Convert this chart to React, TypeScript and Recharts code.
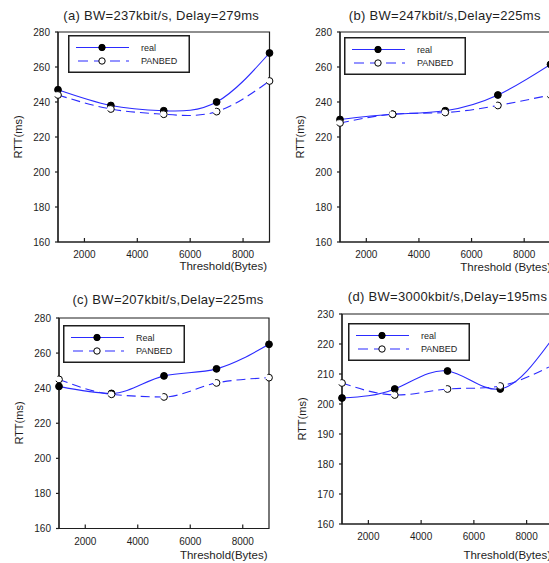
import React from 'react';
import { LineChart, Line, XAxis, YAxis, ReferenceArea, Legend } from 'recharts';

const thresholds = [1000, 3000, 5000, 7000, 9000];
const xTicks = [2000, 4000, 6000, 8000];
const rttTicksWide = [160, 180, 200, 220, 240, 260, 280];
const rttTicksNarrow = [160, 170, 180, 190, 200, 210, 220, 230];

const aReal = [247, 238, 235, 240, 268];
const aPanbed = [244, 236, 233, 234.5, 252];
const bReal = [230, 233, 235, 244, 261.5];
const bPanbed = [228, 233, 234, 238, 244];
const cReal = [241, 237, 247, 251, 265];
const cPanbed = [245, 236.5, 235, 243, 246];
const dReal = [202, 205, 211, 205, 222];
const dPanbed = [207, 203, 205, 206, 213];

const titles = [
  '(a) BW=237kbit/s, Delay=279ms',
  '(b) BW=247kbit/s,Delay=225ms',
  '(c) BW=207kbit/s,Delay=225ms',
  '(d) BW=3000kbit/s,Delay=195ms',
];
const xLabels = ['Threshold(Bytes)', 'Threshold (Bytes)', 'Threshold(Bytes)', 'Threshold(Bytes)'];
const yLabel = 'RTT(ms)';
const realNames = ['real', 'real', 'Real', 'real'];
const panbedName = 'PANBED';

const build = (real: number[], panbed: number[]) =>
  thresholds.map((t, i) => ({ t, real: real[i], panbed: panbed[i] }));

const BLUE = '#2b2bff';
const INK = '#1e1e1e';
const FONT = "'Liberation Sans', Arial, sans-serif";

type PanelProps = {
  plotLeft: number;
  plotTop: number;
  plotW: number;
  plotH: number;
  title: string;
  titleY: number;
  titleDx: number;
  xLabel: string;
  xLabelY: number;
  xLabelDx: number;
  realName: string;
  data: { t: number; real: number; panbed: number }[];
  yDomain: [number, number];
  yTicks: number[];
  curve: 'natural' | 'monotone' | 'linear';
  legendDx: number;
  legendDy: number;
};

const LegendBox = ({ realName }: { realName: string }) => (
  <svg width={122} height={38} style={{ display: 'block' }}>
    <rect x={0.75} y={0.75} width={120.5} height={36.5} fill="#fff" stroke={INK} strokeWidth={1.5} />
    <line x1={8} x2={61} y1={12.5} y2={12.5} stroke={BLUE} strokeWidth={1.2} />
    <circle cx={34} cy={12.5} r={3.2} fill="#000" stroke="#000" />
    <text x={73} y={12.5} dy="0.35em" fontSize={9} fontFamily={FONT} fill={INK}>{realName}</text>
    <line x1={8} x2={61} y1={26} y2={26} stroke={BLUE} strokeWidth={1.2} strokeDasharray="10 6" strokeDashoffset={-2} />
    <circle cx={34} cy={26} r={3.2} fill="#fff" stroke="#000" />
    <text x={73} y={26} dy="0.35em" fontSize={9} fontFamily={FONT} fill={INK}>{panbedName}</text>
  </svg>
);

function Panel(p: PanelProps) {
  const ML = 60;
  const MT = 32;
  const chartLeft = p.plotLeft - ML;
  const chartTop = p.plotTop - MT;
  const width = ML + p.plotW + 12;
  const height = MT + p.plotH + 30;
  const cy = p.plotTop + p.plotH / 2;
  return (
    <>
      <div style={{ position: 'absolute', left: chartLeft, top: chartTop }}>
        <LineChart width={width} height={height} data={p.data} margin={{ top: MT, left: 0, right: 12, bottom: 0 }}>
          <XAxis
            dataKey="t"
            type="number"
            domain={[1000, 9000]}
            ticks={xTicks}
            interval={0}
            height={30}
            tickSize={-4}
            tickMargin={13}
            stroke={INK}
            strokeWidth={1.2}
            tick={{ fill: INK, fontSize: 10, fontFamily: FONT }}
          />
          <YAxis
            type="number"
            domain={p.yDomain}
            ticks={p.yTicks}
            interval={0}
            width={ML}
            tickSize={3}
            tickMargin={5}
            stroke={INK}
            strokeWidth={1.2}
            tick={{ fill: INK, fontSize: 10, fontFamily: FONT }}
          />
          <ReferenceArea x1={1000} x2={9000} y1={p.yDomain[0]} y2={p.yDomain[1]} fill="none" stroke={INK} strokeWidth={1.2} fillOpacity={0} />
          <Legend
            layout="vertical"
            align="center"
            verticalAlign="middle"
            wrapperStyle={{ left: ML + p.legendDx, top: MT + p.legendDy, width: 122, height: 38 }}
            content={() => <LegendBox realName={p.realName} />}
          />
          <Line
            type={p.curve}
            dataKey="real"
            stroke={BLUE}
            strokeWidth={1.1}
            dot={{ r: 3.4, fill: '#000', stroke: '#000', strokeWidth: 1 }}
            activeDot={false}
            isAnimationActive={false}
          />
          <Line
            type={p.curve}
            dataKey="panbed"
            stroke={BLUE}
            strokeWidth={1.1}
            strokeDasharray="9 5"
            dot={{ r: 3.4, fill: '#fff', stroke: '#000', strokeWidth: 1 }}
            activeDot={false}
            isAnimationActive={false}
          />
        </LineChart>
      </div>
      <div
        style={{
          position: 'absolute',
          left: p.plotLeft + p.titleDx - 60,
          width: p.plotW + 120,
          top: p.titleY - 8,
          lineHeight: '16px',
          textAlign: 'center',
          fontSize: 13,
          letterSpacing: 0.3,
          whiteSpace: 'nowrap',
          color: INK,
          fontFamily: FONT,
        }}
      >
        {p.title}
      </div>
      <div
        style={{
          position: 'absolute',
          left: p.plotLeft + p.plotW + p.xLabelDx - 200,
          width: 200,
          top: p.xLabelY - 7,
          lineHeight: '14px',
          textAlign: 'right',
          fontSize: 11.5,
          whiteSpace: 'nowrap',
          color: INK,
          fontFamily: FONT,
        }}
      >
        {p.xLabel}
      </div>
      <div
        style={{
          position: 'absolute',
          left: p.plotLeft - 40 - 50,
          width: 100,
          top: cy - 7,
          height: 14,
          lineHeight: '14px',
          textAlign: 'center',
          fontSize: 11,
          whiteSpace: 'nowrap',
          color: INK,
          fontFamily: FONT,
          transform: 'rotate(-90deg)',
        }}
      >
        {yLabel}
      </div>
    </>
  );
}

export default function App() {
  return (
    <div
      style={{
        position: 'fixed',
        left: 0,
        top: 0,
        width: 549,
        height: 563,
        overflow: 'hidden',
        background: '#fff',
        fontFamily: FONT,
      }}
    >
      <Panel
        plotLeft={57.5}
        plotTop={32}
        plotW={211.5}
        plotH={210}
        title={titles[0]}
        titleY={16}
        titleDx={-2}
        xLabel={xLabels[0]}
        xLabelY={266}
        xLabelDx={-2}
        realName={realNames[0]}
        data={build(aReal, aPanbed)}
        yDomain={[160, 280]}
        yTicks={rttTicksWide}
        curve="natural"
        legendDx={10}
        legendDy={3}
      />
      <Panel
        plotLeft={339.5}
        plotTop={32}
        plotW={210.5}
        plotH={210}
        title={titles[1]}
        titleY={16}
        titleDx={0}
        xLabel={xLabels[1]}
        xLabelY={266.5}
        xLabelDx={1}
        realName={realNames[1]}
        data={build(bReal, bPanbed)}
        yDomain={[160, 280]}
        yTicks={rttTicksWide}
        curve="natural"
        legendDx={4}
        legendDy={5}
      />
      <Panel
        plotLeft={58.5}
        plotTop={318}
        plotW={210}
        plotH={210.5}
        title={titles[2]}
        titleY={300}
        titleDx={4.5}
        xLabel={xLabels[2]}
        xLabelY={555}
        xLabelDx={-1}
        realName={realNames[2]}
        data={build(cReal, cPanbed)}
        yDomain={[160, 280]}
        yTicks={rttTicksWide}
        curve="monotone"
        legendDx={4.5}
        legendDy={7}
      />
      <Panel
        plotLeft={342}
        plotTop={314}
        plotW={211}
        plotH={210}
        title={titles[3]}
        titleY={297}
        titleDx={0}
        xLabel={xLabels[3]}
        xLabelY={555}
        xLabelDx={-2}
        realName={realNames[3]}
        data={build(dReal, dPanbed)}
        yDomain={[160, 230]}
        yTicks={rttTicksNarrow}
        curve="natural"
        legendDx={6}
        legendDy={9}
      />
    </div>
  );
}
